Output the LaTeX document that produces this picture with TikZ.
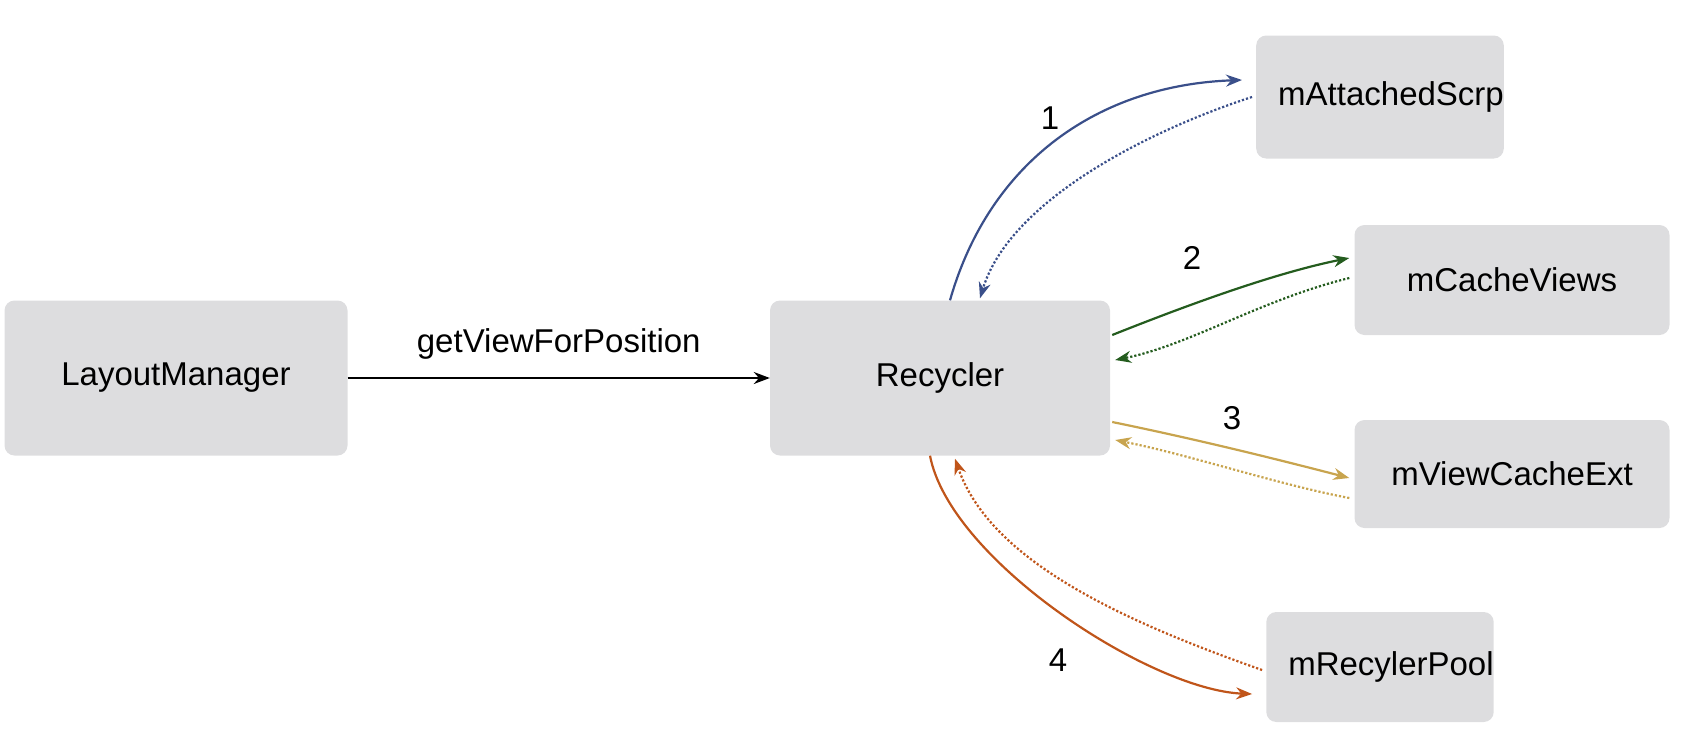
\documentclass[tikz,border=0pt]{standalone}
\usepackage{fontspec}
\setmainfont{Liberation Sans}
\usetikzlibrary{arrows.meta,calc}
\definecolor{boxg}{HTML}{DDDDDF}
\definecolor{cblue}{HTML}{3A4F8A}
\definecolor{cgreen}{HTML}{245C1E}
\definecolor{cgold}{HTML}{C8A44E}
\definecolor{corange}{HTML}{C0551A}
\begin{document}
\begin{tikzpicture}[x=1pt,y=-1pt,
  box/.style={fill=boxg,rounded corners=10pt,inner sep=0pt,font=\fontsize{33}{38}\selectfont},
  lbl/.style={font=\fontsize{33}{38}\selectfont},
  sol/.style={line width=2.2pt,-{Stealth[length=16pt,width=12pt]}},
  dot/.style={line width=2.2pt,dotted,-{Stealth[length=16pt,width=12pt]}}]
\useasboundingbox (0,0) rectangle (1682,745);
\node[box,minimum width=343pt,minimum height=155pt] (lm) at (176,378) {LayoutManager};
\node[box,minimum width=340pt,minimum height=155pt] (rec) at (940,378) {Recycler};
\node[box,minimum width=216pt,minimum height=123pt] (att) at (1380,97) {\hspace*{22pt}mAttachedScrp};
\node[box,minimum width=315pt,minimum height=110pt] (cv) at (1512,280) {mCacheViews};
\node[box,minimum width=315pt,minimum height=108pt] (vce) at (1512,474) {mViewCacheExt};
\node[box,minimum width=216pt,minimum height=110pt] (pool) at (1380,667) {\hspace*{22pt}mRecylerPool};
\draw[line width=2pt,-{Stealth[length=16pt,width=12pt]}] (lm.east) -- (rec.west) node[midway,above=14pt,lbl]{getViewForPosition};
% 1
\draw[sol,cblue] ($(rec.north)+(10,0)$) .. controls (990,160) and (1100,85) .. ($(att.west)+(-14,-17)$);
\draw[dot,cblue] ($(att.west)+(-4,0)$) .. controls (1150,130) and (1010,200) .. ($(rec.north)+(40,-2)$);
\node[lbl] (n1) at (1050,118) {1};
% 2
\draw[sol,cgreen] ($(rec.east)+(2,-43)$) .. controls (1200,300) and (1280,272) .. ($(cv.west)+(-5,-22)$);
\draw[dot,cgreen] ($(cv.west)+(-5,-2)$) .. controls (1260,300) and (1190,345) .. ($(rec.east)+(5,-18)$);
\node[lbl] (n2) at (1192,258) {2};
% 3
\draw[sol,cgold] ($(rec.east)+(2,44)$) .. controls (1200,440) and (1280,460) .. ($(vce.west)+(-5,4)$);
\draw[dot,cgold] ($(vce.west)+(-5,24)$) .. controls (1280,485) and (1190,455) .. ($(rec.east)+(5,62)$);
\node[lbl] (n3) at (1232,418) {3};
% 4
\draw[sol,corange] ($(rec.south)+(-10,0)$) .. controls (950,560) and (1150,690) .. ($(pool.west)+(-14,27)$);
\draw[dot,corange] ($(pool.west)+(-4,3)$) .. controls (1120,620) and (990,560) .. ($(rec.south)+(15,3)$);
\node[lbl] (n4) at (1058,660) {4};
\end{tikzpicture}
\end{document}
